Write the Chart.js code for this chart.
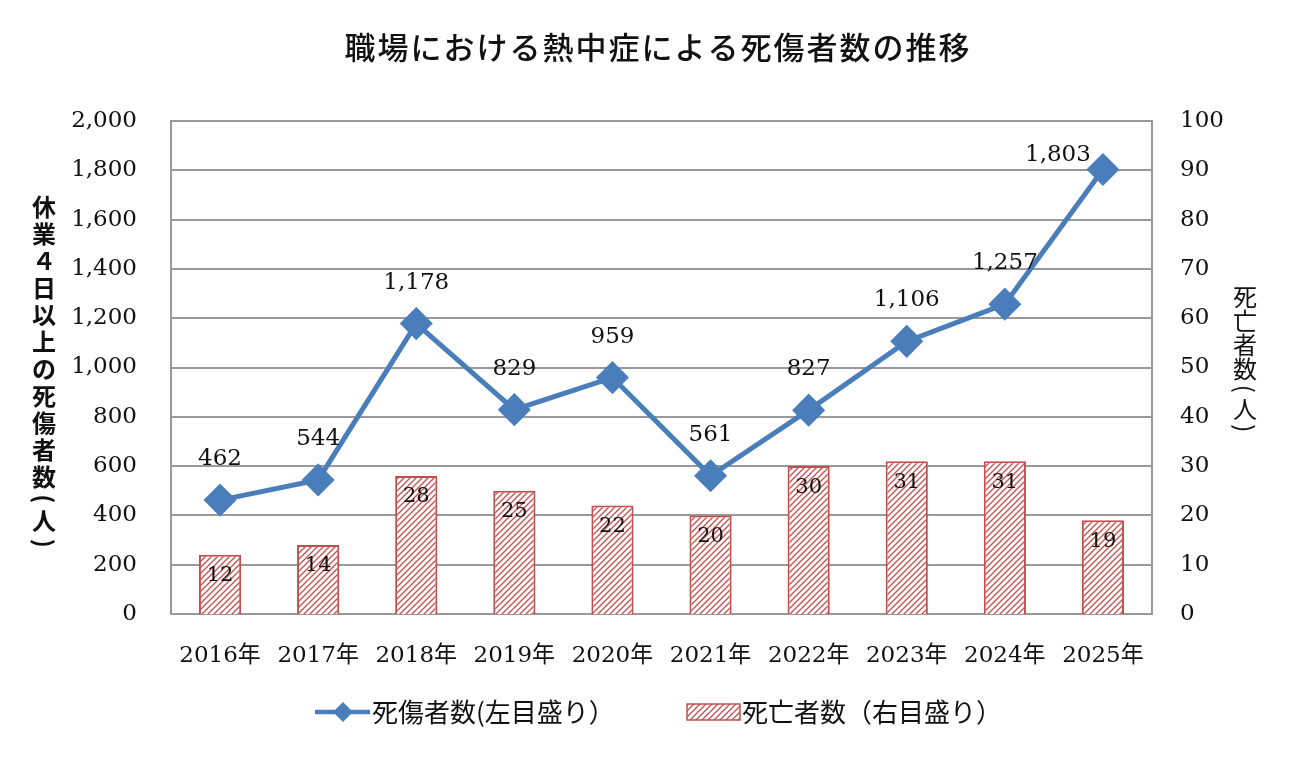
<!DOCTYPE html>
<html>
<head>
<meta charset="utf-8">
<script src="https://cdn.jsdelivr.net/npm/chart.js@4"></script>
<style>
  html, body { margin: 0; padding: 0; background: #fff; }
  #wrap { width: 1295px; height: 757px; }
</style>
</head>
<body>
<div id="wrap"><canvas id="chart" width="1295" height="757"></canvas></div>
<script>
// Chart data
const years = ["2016年", "2017年", "2018年", "2019年", "2020年", "2021年", "2022年", "2023年", "2024年", "2025年"];
const injured = [462, 544, 1178, 829, 959, 561, 827, 1106, 1257, 1803];
const deaths = [12, 14, 28, 25, 22, 20, 30, 31, 31, 19];
const leftTicks = [0, 200, 400, 600, 800, 1000, 1200, 1400, 1600, 1800, 2000];
const rightTicks = [0, 10, 20, 30, 40, 50, 60, 70, 80, 90, 100];

const titleText = "職場における熱中症による死傷者数の推移";
const leftTitle = "休業４日以上の死傷者数(人)";
const rightTitle = "死亡者数(人)";
const legendLine = "死傷者数(左目盛り）";
const legendBar = "死亡者数（右目盛り）";

const lineColor = '#4a7ebb';
const barColor = '#c0504d';
const serif = '"DejaVu Serif", "Noto Sans CJK JP", serif';
const sans = '"Noto Sans CJK JP", sans-serif';

// Hatch pattern for the bars
const makeHatch = () => {
  const c = document.createElement('canvas');
  c.width = 6; c.height = 6;
  const g = c.getContext('2d');
  g.fillStyle = '#fff';
  g.fillRect(0, 0, 6, 6);
  g.strokeStyle = barColor;
  g.lineWidth = 1.3;
  g.beginPath();
  g.moveTo(-1, 7); g.lineTo(7, -1);
  g.moveTo(-4, 4); g.lineTo(4, -4);
  g.moveTo(2, 10); g.lineTo(10, 2);
  g.stroke();
  return g.createPattern(c, 'repeat');
};
const hatch = makeHatch();

// Draw vertical Japanese text, parentheses rotated
const drawVertical = (ctx, text, x, y, step) => {
  ctx.save();
  ctx.textAlign = 'center';
  ctx.textBaseline = 'middle';
  for (const ch of text) {
    const paren = '()（）'.includes(ch);
    const h = paren ? step * 0.65 : step;
    const cy = y + h / 2;
    if (paren) {
      ctx.save();
      ctx.translate(x, cy);
      ctx.rotate(Math.PI / 2);
      ctx.fillText(ch, 0, 0);
      ctx.restore();
    } else {
      ctx.fillText(ch, x, cy);
    }
    y += h;
  }
  ctx.restore();
};

// Plugin for labels, titles and legend
const extrasPlugin = {
  id: 'extras',
  afterDatasetsDraw(chart) {
    const ctx = chart.ctx;
    ctx.save();
    ctx.fillStyle = '#111';
    ctx.textAlign = 'center';
    ctx.textBaseline = 'middle';
    // bar labels
    ctx.font = '21px ' + serif;
    chart.getDatasetMeta(1).data.forEach((bar, i) => {
      ctx.fillText(deaths[i], bar.x, bar.y + 21);
    });
    // line labels
    ctx.font = '23px ' + serif;
    chart.getDatasetMeta(0).data.forEach((pt, i) => {
      const txt = injured[i].toLocaleString('en-US');
      if (i === injured.length - 1) {
        ctx.fillText(txt, pt.x - 45, pt.y - 15);
      } else {
        ctx.fillText(txt, pt.x, pt.y - 41);
      }
    });
    ctx.restore();
  },
  afterDraw(chart) {
    const ctx = chart.ctx;
    ctx.save();
    ctx.fillStyle = '#111';
    // title
    ctx.font = '500 31px ' + sans;
    ctx.letterSpacing = '2px';
    ctx.textAlign = 'center';
    ctx.textBaseline = 'middle';
    ctx.fillText(titleText, 658, 47);
    ctx.letterSpacing = '0px';
    // axis titles
    ctx.font = 'bold 24px ' + sans;
    drawVertical(ctx, leftTitle, 44, 193, 27);
    ctx.font = '24px ' + sans;
    drawVertical(ctx, rightTitle, 1245, 285, 24);
    // legend
    ctx.strokeStyle = lineColor;
    ctx.lineWidth = 4.5;
    ctx.beginPath();
    ctx.moveTo(315, 712); ctx.lineTo(370, 712);
    ctx.stroke();
    ctx.fillStyle = lineColor;
    ctx.beginPath();
    ctx.moveTo(343, 702); ctx.lineTo(353, 712); ctx.lineTo(343, 722); ctx.lineTo(333, 712);
    ctx.closePath();
    ctx.fill();
    ctx.fillStyle = hatch;
    ctx.fillRect(687, 704, 53, 16);
    ctx.strokeStyle = barColor;
    ctx.lineWidth = 1.5;
    ctx.strokeRect(687, 704, 53, 16);
    ctx.fillStyle = '#111';
    ctx.font = '26px ' + sans;
    ctx.textAlign = 'left';
    ctx.fillText(legendLine, 372, 712);
    ctx.fillText(legendBar, 742, 712);
    ctx.restore();
  }
};

const canvas = document.getElementById('chart');
new Chart(canvas, {
  type: 'bar',
  data: {
    labels: years,
    datasets: [{
      type: 'line',
      data: injured,
      yAxisID: 'y',
      borderColor: lineColor,
      backgroundColor: lineColor,
      borderWidth: 5,
      pointStyle: 'rectRot',
      pointRadius: 13,
      pointHoverRadius: 13,
      tension: 0,
      order: 0
    }, {
      type: 'bar',
      data: deaths,
      yAxisID: 'y1',
      backgroundColor: hatch,
      borderColor: barColor,
      borderWidth: 2,
      barPercentage: 0.43,
      categoryPercentage: 1,
      order: 1
    }]
  },
  options: {
    responsive: false,
    animation: false,
    layout: { padding: { top: 121, left: 0, right: 0, bottom: 0 } },
    plugins: {
      legend: { display: false },
      title: { display: false },
      tooltip: { enabled: false }
    },
    scales: {
      x: {
        afterFit: (s) => { s.height = 143; },
        grid: { display: false },
        border: { display: true, color: '#999', width: 2 },
        ticks: { color: '#111', font: { family: serif, size: 23 }, padding: 20 }
      },
      y: {
        position: 'left',
        min: 0, max: 2000,
        afterFit: (s) => { s.width = 171; },
        afterBuildTicks: (s) => { s.ticks = leftTicks.map(v => ({ value: v })); },
        grid: { color: '#999', lineWidth: 2, drawTicks: false },
        border: { display: true, color: '#999', width: 2 },
        ticks: {
          color: '#111', padding: 34,
          font: { family: serif, size: 23 },
          callback: (v) => v.toLocaleString('en-US')
        }
      },
      y1: {
        position: 'right',
        min: 0, max: 100,
        afterFit: (s) => { s.width = 143; },
        afterBuildTicks: (s) => { s.ticks = rightTicks.map(v => ({ value: v })); },
        grid: { display: false, drawTicks: false },
        border: { display: true, color: '#999', width: 2 },
        ticks: { color: '#111', padding: 28, font: { family: serif, size: 23 } }
      }
    }
  },
  plugins: [extrasPlugin]
});
</script>
</body>
</html>
